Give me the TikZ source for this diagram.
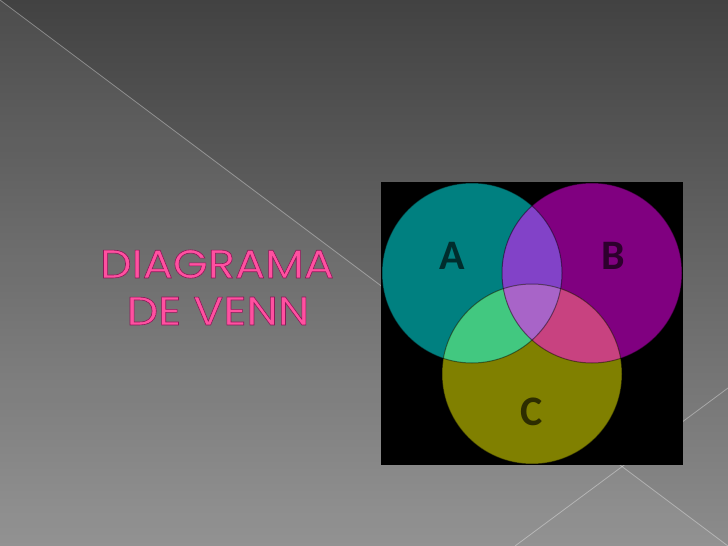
\documentclass[tikz,border=0pt]{standalone}
\usepackage{fontspec}
\usepackage{xcolor}
\setmainfont{Poppins}
\newfontfamily\headfont[FakeStretch=1.12]{Poppins}
\newfontfamily\letterfont{Carlito}

\definecolor{bgTop}{RGB}{66,66,66}
\definecolor{bgBot}{RGB}{140,140,140}
\definecolor{titlePink}{RGB}{255,80,160}
\definecolor{vennA}{RGB}{0,128,128}
\definecolor{vennB}{RGB}{128,0,128}
\definecolor{vennC}{RGB}{128,128,0}
\definecolor{vennAB}{RGB}{130,66,200}
\definecolor{vennAC}{RGB}{66,200,128}
\definecolor{vennBC}{RGB}{200,66,128}
\definecolor{vennABC}{RGB}{168,100,200}

\tikzset{
  titletext/.style={font=\headfont\fontsize{40}{42}\selectfont, text=titlePink, inner sep=0pt},
  setletter/.style={font=\letterfont\bfseries\fontsize{42}{42}\selectfont, inner sep=0pt},
  rim/.style={black, opacity=0.45, line width=1pt}
}

\newcommand{\outlined}[1]{\special{pdf:literal direct 0.55 0.1 0.35 RG 0.6 w 2 Tr}#1\special{pdf:literal direct 0 Tr}}

\begin{document}
\begin{tikzpicture}[x=1pt, y=-1pt]
  \useasboundingbox (0,0) rectangle (728,546);
  % background
  \shade[top color=bgTop, bottom color=bgBot] (0,0) rectangle (728,546);
  \fill[white, opacity=0.06] (0,0) -- (728,546) -- (0,546) -- cycle;
  \draw[white, opacity=0.35, line width=0.8pt] (0,0) -- (728,546);
  \draw[white, opacity=0.35, line width=0.8pt] (728,388) -- (515,546);

  % title
  \node[titletext] (line1) at (217,264) {\outlined{DIAGRAMA}};
  \node[titletext] (line2) at (218,311) {\outlined{DE VENN}};

  % venn picture
  \fill[black] (381,182) rectangle (683,465);
  \coordinate (cA) at (472,273);
  \coordinate (cB) at (592,273);
  \coordinate (cC) at (532,374);
  \fill[vennA] (cA) circle[radius=90];
  \fill[vennB] (cB) circle[radius=90];
  \fill[vennC] (cC) circle[radius=90];
  \begin{scope}
    \clip (cA) circle[radius=90];
    \fill[vennAB] (cB) circle[radius=90];
    \fill[vennAC] (cC) circle[radius=90];
  \end{scope}
  \begin{scope}
    \clip (cB) circle[radius=90];
    \fill[vennBC] (cC) circle[radius=90];
  \end{scope}
  \begin{scope}
    \clip (cA) circle[radius=90];
    \clip (cB) circle[radius=90];
    \fill[vennABC] (cC) circle[radius=90];
  \end{scope}
  \foreach \c in {cA, cB, cC}
    \draw[rim] (\c) circle[radius=90];

  \node[setletter, text=vennA!35!black] (lA) at (452,256) {A};
  \node[setletter, text=vennB!35!black] (lB) at (613,256) {B};
  \node[setletter, text=vennC!35!black] (lC) at (532,412) {C};
\end{tikzpicture}
\end{document}
